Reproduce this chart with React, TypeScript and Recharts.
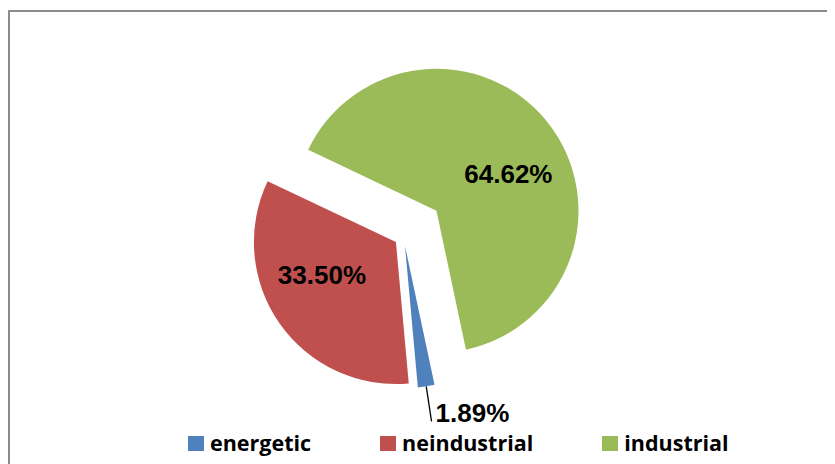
import React from "react";
import { PieChart, Pie, Cell, Sector, Legend } from "recharts";

const categories = ["energetic", "neindustrial", "industrial"];
const values = [1.89, 33.5, 64.62];
const colors = ["#4F81BD", "#C0504D", "#9BBB59"];
const explodeFraction = [0.066, 0.066, 0.295];

const data = categories.map((name, i) => ({ name, value: values[i] }));

const RAD = Math.PI / 180;
const CX = 390.6;
const CY = 223.7;
const R = 142;

const explodeOffset = (index: number, midAngle: number) => {
  const d = explodeFraction[index] * R;
  return { dx: d * Math.cos(-midAngle * RAD), dy: d * Math.sin(-midAngle * RAD) };
};

const renderShape = (props: any) => {
  const { cx, cy, midAngle, index } = props;
  const { dx, dy } = explodeOffset(index, midAngle);
  return <Sector {...props} cx={cx + dx} cy={cy + dy} stroke="none" />;
};

const renderLabel = (props: any) => {
  const { cx, cy, midAngle, outerRadius, index, value } = props;
  const { dx, dy } = explodeOffset(index, midAngle);
  const vx = cx + dx;
  const vy = cy + dy;
  const text = `${Number(value).toFixed(2)}%`;
  const style = {
    fontFamily: "'Liberation Sans', Arial, sans-serif",
    fontWeight: 700,
    fontSize: 26,
    fill: "#000",
  };
  if (value < 5) {
    const a = -midAngle * RAD;
    const x1 = vx + outerRadius * Math.cos(a);
    const y1 = vy + outerRadius * Math.sin(a);
    const x2 = vx + outerRadius * 1.25 * Math.cos(a);
    const y2 = vy + outerRadius * 1.25 * Math.sin(a);
    return (
      <g>
        <line x1={x1} y1={y1} x2={x2} y2={y2} stroke="#000" strokeWidth={1.3} />
        <text x={x2 + 4} y={y2 - 8} textAnchor="start" dominantBaseline="central" style={style}>
          {text}
        </text>
      </g>
    );
  }
  const a = -(midAngle - 11) * RAD;
  const r = outerRadius * 0.57;
  return (
    <text
      x={vx + r * Math.cos(a)}
      y={vy + r * Math.sin(a)}
      textAnchor="middle"
      dominantBaseline="central"
      style={style}
    >
      {text}
    </text>
  );
};

const renderLegend = () => (
  <div
    style={{
      display: "flex",
      justifyContent: "flex-start",
      alignItems: "center",
      gap: 69,
      paddingLeft: 180,
      fontFamily: "'Open Sans', sans-serif",
      fontWeight: 700,
      fontSize: 21.5,
      lineHeight: "20px",
      color: "#000",
    }}
  >
    {categories.map((c, i) => (
      <div key={c} style={{ display: "flex", alignItems: "center" }}>
        <div style={{ width: 16, height: 15, background: colors[i], marginRight: 6 }} />
        <span>{c}</span>
      </div>
    ))}
  </div>
);

export default function App() {
  return (
    <div style={{ position: "relative", width: 827, height: 456, background: "#fff" }}>
      <div
        style={{
          position: "absolute",
          left: 0,
          top: 2,
          right: 0,
          bottom: 0,
          borderTop: "2px solid #8c8c8c",
          borderLeft: "2px solid #8c8c8c",
        }}
      />
      <PieChart width={827} height={456} style={{ position: "absolute", left: 0, top: 0 }}>
        <Pie
          data={data}
          dataKey="value"
          nameKey="name"
          cx={CX}
          cy={CY}
          outerRadius={R}
          startAngle={-78}
          endAngle={-438}
          stroke="none"
          shape={renderShape}
          label={renderLabel}
          labelLine={false}
          isAnimationActive={false}
        >
          {data.map((d, i) => (
            <Cell key={d.name} fill={colors[i]} />
          ))}
        </Pie>
        <Legend
          content={renderLegend}
          wrapperStyle={{ left: 0, top: 425, width: 827 }}
        />
      </PieChart>
    </div>
  );
}
